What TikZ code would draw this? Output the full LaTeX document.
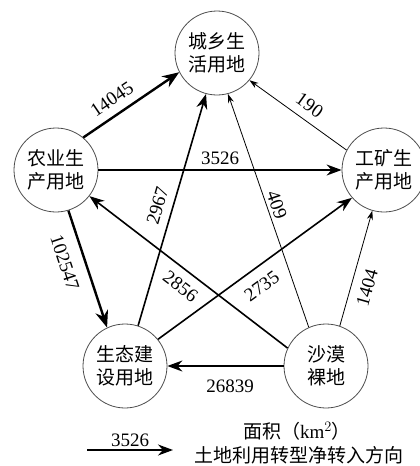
\documentclass[tikz,border=0pt]{standalone}
\usepackage{fontspec}
\setmainfont{Liberation Serif}
\newfontfamily\cjk{Noto Sans CJK SC}
\usetikzlibrary{arrows.meta,positioning}

\begin{document}
\begin{tikzpicture}[
    x=1pt, y=-1pt,
    land/.style={circle, draw=black!70, line width=0.8pt, minimum size=84pt, inner sep=0pt, align=center, font=\cjk\fontsize{19}{23}\selectfont},
    heavy/.style={-{Stealth[length=17pt, width=13pt]}, line width=2.4pt},
    medium/.style={-{Stealth[length=15pt, width=11pt]}, line width=1.6pt},
    light/.style={-{Stealth[length=9pt, width=6pt]}, line width=0.8pt},
    num/.style={font=\fontsize{19}{21}\selectfont, inner sep=1pt},
]
\useasboundingbox (0,0) rectangle (420,466);

% === Land types ===
\node[land] (urban)  at (217,53)  {城乡生\\活用地};
\node[land] (farm)   at (56,170)  {农业生\\产用地};
\node[land] (mine)   at (384,170) {工矿生\\产用地};
\node[land] (eco)    at (125,366) {生态建\\设用地};
\node[land] (desert) at (326,366) {沙漠\\裸地};

% === Net conversions ===
\draw[heavy] (farm.50) -- node[num, pos=0.39, sloped, above=7pt] {14045} (urban.207);
\draw[light] (mine.152) -- node[num, pos=0.47, sloped, above=7pt] {190} (urban.320);
\draw[medium] (farm.0) -- node[num, midway, above=4pt] {3526} (mine.180);
\draw[heavy] (farm.287) -- node[num, pos=0.39, sloped, below=11pt] {102547} (eco.115);
\draw[medium] (eco.72) -- node[num, midway, sloped, above=7pt] {2967} (urban.255);
\draw[light] (desert.114) -- node[num, pos=0.51, sloped, above=2pt] {409} (urban.285);
\draw[medium] (desert.155) -- node[num, pos=0.49, sloped, below=8pt] {2856} (farm.322);
\draw[medium] (eco.39) -- node[num, pos=0.48, sloped, below=10pt] {2735} (mine.221);
\draw[light] (desert.71) -- node[num, pos=0.37, sloped, below=8pt] {1404} (mine.254);
\draw[medium] (desert.180) -- node[num, pos=0.46, below=12pt] {26839} (eco.0);

% === Legend ===
\coordinate (legA) at (87,450);
\coordinate (legB) at (173,450);
\draw[medium] (legA) -- node[num, above=2pt] {3526} (legB);
\node[font=\fontsize{19}{22}\selectfont] (unit) at (297,431) {{\cjk 面积（}km$^2${\cjk ）}};
\node[font=\cjk\fontsize{19}{22}\selectfont] (dir) at (299,455) {土地利用转型净转入方向};

\end{tikzpicture}
\end{document}
